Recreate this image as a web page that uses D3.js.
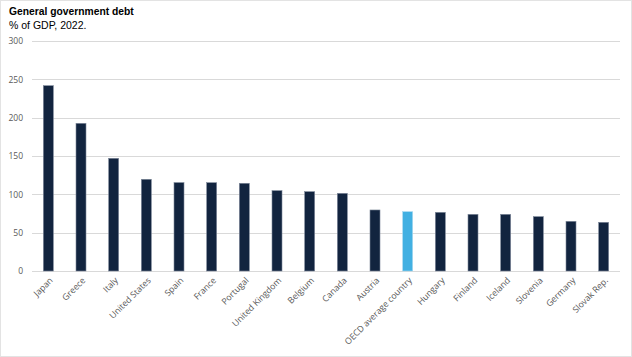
<!DOCTYPE html>
<html><head><meta charset="utf-8">
<script src="https://cdn.jsdelivr.net/npm/d3@7/dist/d3.min.js"></script>
<style>body{margin:0;background:#fff}svg{display:block}</style>
</head><body>
<script>
const categories = ["Japan","Greece","Italy","United States","Spain","France","Portugal","United Kingdom","Belgium","Canada","Austria","OECD average country","Hungary","Finland","Iceland","Slovenia","Germany","Slovak Rep."];
const values = [241.7,192.6,147.0,119.6,115.3,115.2,114.4,104.8,103.5,101.3,79.6,77.4,76.5,73.9,73.9,70.9,64.8,63.5];
const highlight = ["OECD average country"];
const yTicks = [0,50,100,150,200,250,300];
const title = "General government debt";
const subtitle = "% of GDP, 2022.";

const W = 632, H = 357;
const svg = d3.select("body").append("svg").attr("width", W).attr("height", H);
svg.append("rect").attr("x",0.5).attr("y",0.5).attr("width",W-1).attr("height",H-1).attr("fill","#fff").attr("stroke","#e3e3e3");

const m = {left:32, right:12, top:41, bottom:86};
const x = d3.scaleBand().domain(categories).range([m.left, W - m.right]).paddingInner(0.694).paddingOuter(0.347);
const y = d3.scaleLinear().domain([0,300]).range([H - m.bottom, m.top]);

svg.append("text").attr("x",9).attr("y",15).attr("font-family","Liberation Sans, Arial, sans-serif").attr("font-weight","bold").attr("font-size","10.3px").attr("fill","#000").text(title);
svg.append("text").attr("x",9).attr("y",29).attr("font-family","Liberation Sans, Arial, sans-serif").attr("font-size","10.5px").attr("fill","#000").text(subtitle);

// gridlines
svg.append("g").selectAll("line").data(yTicks).join("line")
  .attr("x1", m.left).attr("x2", W - m.right)
  .attr("y1", d => Math.round(y(d)) + 0.5).attr("y2", d => Math.round(y(d)) + 0.5)
  .attr("stroke", "#d9d9d9").attr("stroke-width", 1);

// y labels
const yAxis = d3.axisLeft(y).tickValues(yTicks).tickSize(0).tickPadding(0);
const gy = svg.append("g").attr("transform", `translate(${m.left-9},0)`).call(yAxis);
gy.select(".domain").remove();
gy.selectAll("text").attr("font-family","Open Sans, sans-serif").attr("font-size","8.5px").attr("fill","#595959");

// bars
svg.append("g").selectAll("rect").data(categories).join("rect")
  .attr("x", d => x(d)).attr("width", x.bandwidth())
  .attr("y", (d,i) => y(values[i])).attr("height", (d,i) => y(0) - y(values[i]))
  .attr("fill", d => highlight.includes(d) ? "#42b0e2" : "#12243f")
  .attr("stroke", d => highlight.includes(d) ? "#a9d9f0" : "#7d8899").attr("stroke-width", 0.6);

// x labels
const xAxis = d3.axisBottom(x).tickSize(0).tickPadding(0);
const gx = svg.append("g").attr("transform", `translate(0,${y(0)})`).call(xAxis);
gx.select(".domain").remove();
gx.selectAll("text")
  .attr("font-family","Open Sans, sans-serif").attr("font-size","8.7px").attr("fill","#595959")
  .attr("text-anchor","end").attr("dy",null).attr("y",0)
  .attr("transform","translate(5,10) rotate(-45)");
</script>
</body></html>
